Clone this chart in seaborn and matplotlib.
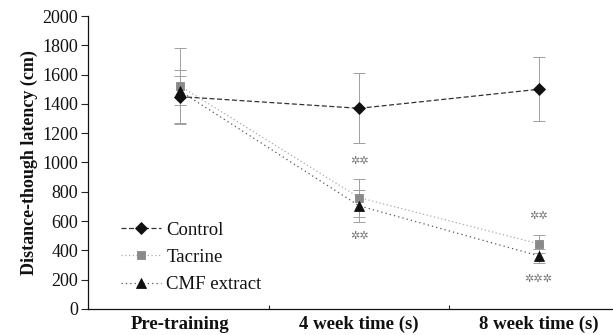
import numpy as np
import pandas as pd
import matplotlib
matplotlib.use("Agg")
import matplotlib.pyplot as plt
from matplotlib.ticker import FixedLocator
import seaborn as sns

# Time points and group means / SEM
categories = ["Pre-training", "4 week time (s)", "8 week time (s)"]
control = [1450, 1370, 1500]
control_err = [180, 240, 220]
tacrine = [1525, 760, 444]
tacrine_err = [260, 130, 60]
cmf = [1490, 704, 362]
cmf_err = [100, 110, 50]

# Significance marks: (time index, y, text)
sig_marks = [(1, 1012, "✲✲"), (1, 500, "✲✲"), (2, 636, "✲✲"), (2, 205, "✲✲✲")]

sns.set_theme(style="white")
plt.rcParams["font.family"] = ["Liberation Serif", "DejaVu Serif"]

groups = ["Control", "Tacrine", "CMF extract"]
means = [control, tacrine, cmf]
errs = [control_err, tacrine_err, cmf_err]
df = pd.DataFrame({
    "time": np.tile(np.arange(len(categories)), len(groups)),
    "value": np.concatenate(means),
    "err": np.concatenate(errs),
    "group": np.repeat(groups, len(categories)),
})

fig = plt.figure(figsize=(6.13, 3.35), dpi=100)
ax = fig.add_axes([0.1436, 0.078, 0.87, 0.874])

styles = {
    "Control": dict(color="#111111", marker="D", ms=6, ls=(0, (4, 2)), lw=0.9, mfc="#111111", line="#333333"),
    "Tacrine": dict(color="#888888", marker="s", ms=6, ls=(0, (1, 2)), lw=0.9, mfc="#8a8a8a", line="#aaaaaa"),
    "CMF extract": dict(color="#111111", marker="^", ms=7, ls=(0, (1, 2.5)), lw=0.9, mfc="#111111", line="#555555"),
}

for g in groups:
    sub = df[df["group"] == g]
    ax.errorbar(sub["time"], sub["value"], yerr=sub["err"], fmt="none",
                ecolor="#a0a0a0", elinewidth=0.7, capsize=4, capthick=0.7, zorder=2)

for g in groups:
    st = styles[g]
    sub = df[df["group"] == g]
    sns.lineplot(data=sub, x="time", y="value", ax=ax, color=st["line"],
                 linestyle=st["ls"], linewidth=st["lw"], marker=st["marker"],
                 markersize=st["ms"], markerfacecolor=st["mfc"],
                 markeredgecolor=st["color"], markeredgewidth=0.6,
                 label=g, zorder=3, errorbar=None)

for xi, yv, txt in sig_marks:
    ax.text(xi, yv, txt, ha="center", va="center", fontsize=8,
            color="#777777", family="DejaVu Sans")

ax.set_xlim(-0.51, 2.46)
ax.set_ylim(0, 2000)
ax.set_yticks(np.arange(0, 2001, 200))
ax.tick_params(axis="y", labelsize=13, length=5, width=0.8, direction="out",
               left=True, pad=2, labelcolor="#111111")
ax.set_xticks(range(len(categories)))
ax.set_xticklabels(categories, fontweight="bold", fontsize=13.5)
ax.tick_params(axis="x", length=0, pad=5, labelcolor="#111111")
ax.xaxis.set_minor_locator(FixedLocator([0.5, 1.5]))
ax.tick_params(axis="x", which="minor", direction="in", length=3, width=0.8,
               bottom=True)
ax.set_xlabel("")
ax.set_ylabel("Distance-though latency (cm)", fontweight="bold", fontsize=13,
              labelpad=3, color="#111111")

for side in ("top", "right"):
    ax.spines[side].set_visible(False)
for side in ("left", "bottom"):
    ax.spines[side].set_color("#111111")
    ax.spines[side].set_linewidth(0.9)

ax.legend(loc="upper left", bbox_to_anchor=(0.045, 0.33), frameon=False,
          fontsize=13.5, handlelength=2.1, labelspacing=0.54, borderpad=0.0,
          handletextpad=0.3, labelcolor="#111111")

fig.savefig("out.png", dpi=100)
